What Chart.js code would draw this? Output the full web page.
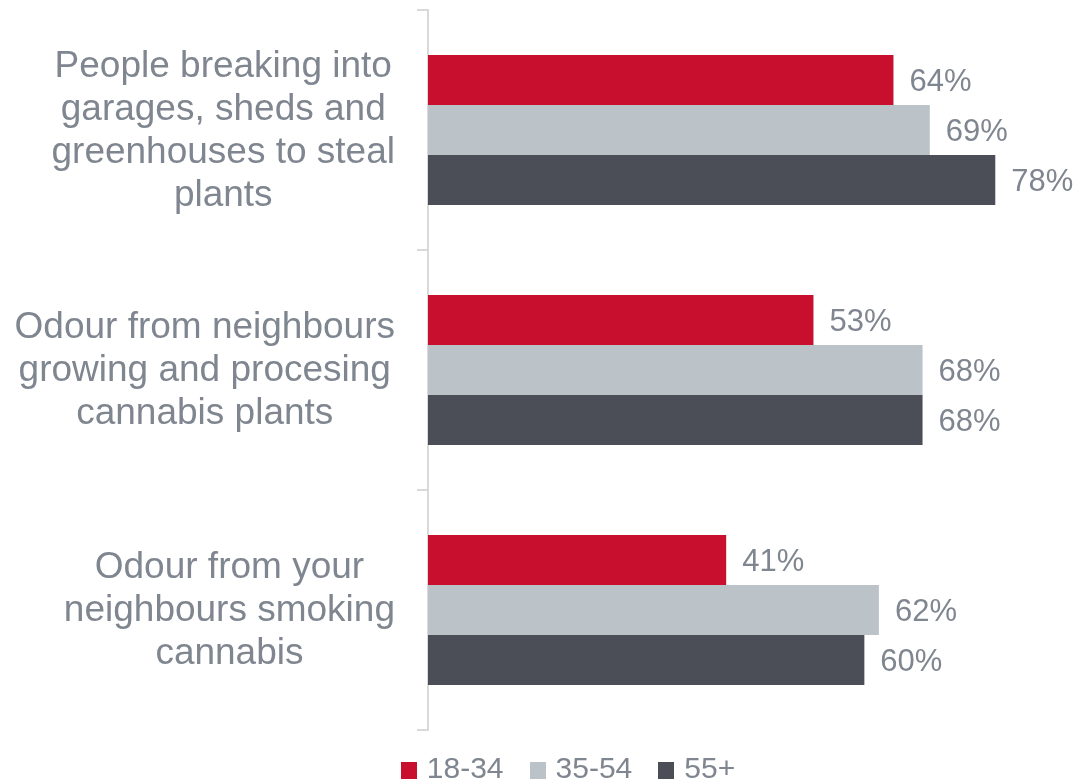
<!DOCTYPE html>
<html>
<head>
<meta charset="utf-8">
<script src="https://cdn.jsdelivr.net/npm/chart.js@4"></script>
<style>
  html, body { margin: 0; padding: 0; background: #fff; }
  #wrap { position: relative; width: 1076px; height: 783px; }
  #legend { position: absolute; left: 60px; right: 0; top: 751px; text-align: center;
            font-family: "Liberation Sans", Arial, sans-serif; font-size: 30px; color: #7f8690; }
  #legend span.item { display: inline-block; margin: 0 13px; }
  #legend span.box { display: inline-block; width: 16px; height: 17px; margin-right: 10px; vertical-align: -1px; }
</style>
</head>
<body>
<div id="wrap">
  <canvas id="chart" width="1076" height="783"></canvas>
  <div id="legend"></div>
</div>
<script>
// --------------------
// Data
// --------------------
const categories = [
    ["People breaking into", "garages, sheds and", "greenhouses to steal", "plants"],
    ["Odour from neighbours", "growing and procesing", "cannabis plants"],
    ["Odour from your", "neighbours smoking", "cannabis"]
];
const seriesNames = ["18-34", "35-54", "55+"];
const age18to34 = [64, 53, 41];
const age35to54 = [69, 68, 62];
const age55plus = [78, 68, 60];
const seriesColors = ["#c8102e", "#bcc3c8", "#4b4e56"];

const textColor = "#7f8690";
const fontFamily = '"Liberation Sans", Arial, sans-serif';

// --------------------
// Plugins: category labels and value labels
// --------------------
const categoryLabels = {
    id: 'categoryLabels',
    afterDraw(chart) {
        const ctx = chart.ctx;
        const yScale = chart.scales.y;
        const lineH = 43;
        const rightEdge = 395;
        ctx.save();
        ctx.font = `37px ${fontFamily}`;
        ctx.fillStyle = textColor;
        ctx.textAlign = 'center';
        ctx.textBaseline = 'middle';
        categories.forEach((lines, i) => {
            const widest = Math.max(...lines.map(l => ctx.measureText(l).width));
            const cx = rightEdge - widest / 2;
            const cy = yScale.getPixelForTick(i) + 1;
            const top = cy - (lines.length - 1) * lineH / 2;
            lines.forEach((line, j) => ctx.fillText(line, cx, top + j * lineH));
        });
        ctx.restore();
    }
};

const valueLabels = {
    id: 'valueLabels',
    afterDatasetsDraw(chart) {
        const ctx = chart.ctx;
        ctx.save();
        ctx.font = `31px ${fontFamily}`;
        ctx.fillStyle = textColor;
        ctx.textAlign = 'left';
        ctx.textBaseline = 'middle';
        chart.data.datasets.forEach((ds, di) => {
            chart.getDatasetMeta(di).data.forEach((bar, i) => {
                ctx.fillText(ds.data[i] + '%', bar.x + 16, bar.y + 2);
            });
        });
        ctx.restore();
    }
};

// --------------------
// Render chart
// --------------------
const ctx = document.getElementById('chart').getContext('2d');
new Chart(ctx, {
    type: 'bar',
    data: {
        labels: categories,
        datasets: [
            { label: seriesNames[0], data: age18to34, backgroundColor: seriesColors[0] },
            { label: seriesNames[1], data: age35to54, backgroundColor: seriesColors[1] },
            { label: seriesNames[2], data: age55plus, backgroundColor: seriesColors[2] }
        ]
    },
    options: {
        indexAxis: 'y',
        responsive: false,
        animation: false,
        layout: { padding: { top: 10, bottom: 53, right: 8, left: 0 } },
        datasets: { bar: { categoryPercentage: 0.625, barPercentage: 1 } },
        scales: {
            x: { display: false, min: 0, max: 88 },
            y: {
                afterFit(scale) { scale.width = 428; },
                ticks: { display: false },
                grid: { drawOnChartArea: false, drawTicks: true, tickLength: 11, color: '#d9d9d9', lineWidth: 2, offset: true },
                border: { display: true, color: '#d9d9d9', width: 2 }
            }
        },
        plugins: {
            legend: { display: false },
            tooltip: { enabled: false }
        }
    },
    plugins: [categoryLabels, valueLabels]
});

// Legend below the chart
const legend = document.getElementById('legend');
seriesNames.forEach((name, i) => {
    const item = document.createElement('span');
    item.className = 'item';
    item.innerHTML = `<span class="box" style="background:${seriesColors[i]}"></span>${name}`;
    legend.appendChild(item);
});
</script>
</body>
</html>
